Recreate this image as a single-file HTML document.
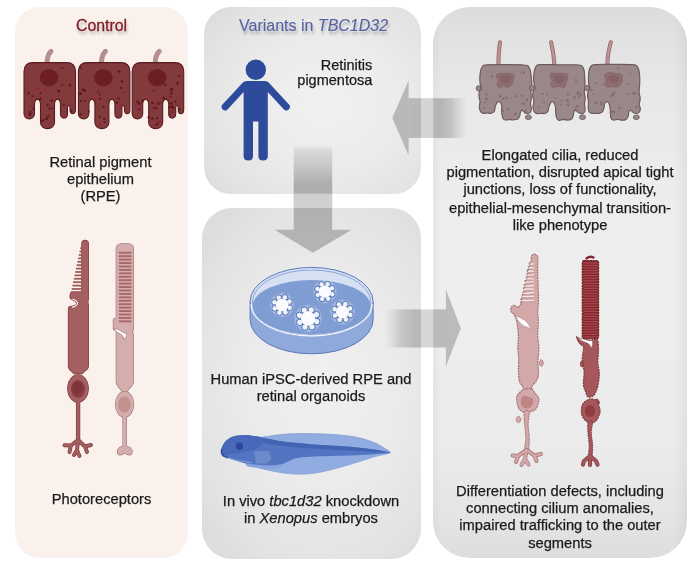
<!DOCTYPE html>
<html><head><meta charset="utf-8">
<style>
html,body{margin:0;padding:0;background:#fff;}
body{width:700px;height:567px;position:relative;overflow:hidden;font-family:"Liberation Sans",sans-serif;color:#1a1a1a;}
.p{position:absolute;}
.panel{position:absolute;border-radius:24px;}
.t{position:absolute;font-size:14.7px;line-height:17px;will-change:transform;-webkit-text-stroke:0.25px #1a1a1a;text-align:center;white-space:nowrap;}
.h{position:absolute;font-size:16px;line-height:18px;white-space:nowrap;will-change:transform;text-shadow:0 0 2px rgba(255,255,255,0.9),1px 3px 3px rgba(0,0,0,0.32);}
svg{position:absolute;left:0;top:0;}
</style></head><body>
<!-- panels -->
<div class="panel" style="left:14.5px;top:7px;width:173px;height:551.3px;background:#FAF1EC;border-radius:25px;"></div>
<div class="panel" style="left:203.5px;top:7.2px;width:217.5px;height:186.5px;background:radial-gradient(ellipse 72% 72% at 56% 52%,#F1F1F1 0%,#EBEBEB 50%,#E2E2E2 85%,#DCDCDC 100%);border-radius:27px;"></div>
<div class="panel" style="left:202px;top:208px;width:219px;height:350.5px;background:radial-gradient(ellipse 70% 62% at 55% 50%,#F0F0F0 0%,#EBEBEB 50%,#E3E3E3 85%,#DDDDDD 100%);border-radius:30px;"></div>
<div class="panel" style="left:433.3px;top:6.9px;width:253.7px;height:551.5px;background:linear-gradient(to right,rgba(0,0,0,0.035) 0%,rgba(0,0,0,0) 3%,rgba(0,0,0,0) 95%,rgba(0,0,0,0.05) 100%),linear-gradient(to bottom,#DCDCDC 0%,#E1E1E1 5%,#E8E8E8 15%,#EDEDED 35%,#EEEEEE 55%,#EBEBEB 80%,#E4E4E4 93%,#DDDDDD 100%);border-radius:37px;"></div>

<svg width="700" height="567" viewBox="0 0 700 567">
<g transform="translate(24,62.6)"><path d="M23,1 C23,-5 24.5,-9 27,-11.3" stroke="#B48E90" stroke-width="5" fill="none" stroke-linecap="round"/><path d="M0,9 C0,3 3,0 9,0 L42.5,0 C48.5,0 51.5,3 51.5,9 L51.5,47 C51.5,52.5 46,52.5 46,47 L46,45 C46,42 43.5,42 43.5,45 L43.5,51 C43.5,57 36.5,57 36.5,51 L36.5,42 C36.5,35 30.5,35 30.5,42 L30.5,60 C30.5,68 16.5,68 16.5,60 L16.5,42 C16.5,35 10.5,35 10.5,42 L10.5,51 C10.5,58 0,58 0,51 Z" fill="#833A3D" stroke="#5A1B1F" stroke-width="1.1"/><ellipse cx="25" cy="15.1" rx="9.3" ry="8.6" fill="#6C1E22"/><circle cx="6.4" cy="49.2" r="1.1" fill="#661A1E"/><circle cx="9.2" cy="46.1" r="1.1" fill="#661A1E"/><circle cx="23.0" cy="55.8" r="1.2" fill="#661A1E"/><circle cx="47.5" cy="48.1" r="1.0" fill="#5E171B"/><circle cx="6.0" cy="49.4" r="1.1" fill="#661A1E"/><circle cx="16.5" cy="36.1" r="1.3" fill="#661A1E"/><circle cx="19.4" cy="57.5" r="1.0" fill="#5E171B"/><circle cx="45.9" cy="22.3" r="1.5" fill="#661A1E"/><circle cx="40.0" cy="53.0" r="1.5" fill="#9A2A32"/><circle cx="8.2" cy="33.8" r="0.9" fill="#661A1E"/><circle cx="32.8" cy="26.9" r="1.1" fill="#9A2A32"/><circle cx="39.8" cy="27.6" r="1.3" fill="#9A2A32"/><circle cx="24.3" cy="53.7" r="1.3" fill="#661A1E"/><circle cx="22.6" cy="56.3" r="1.4" fill="#661A1E"/><circle cx="13.8" cy="25.7" r="1.0" fill="#661A1E"/><circle cx="4.7" cy="30.5" r="1.3" fill="#661A1E"/><circle cx="16.8" cy="30.4" r="0.9" fill="#5E171B"/><circle cx="38.3" cy="5.3" r="1.1" fill="#661A1E"/><circle cx="27.6" cy="38.2" r="1.4" fill="#5E171B"/><circle cx="21.5" cy="27.2" r="1.0" fill="#9A2A32"/><circle cx="18.0" cy="58.3" r="1.2" fill="#661A1E"/><circle cx="39.9" cy="42.1" r="1.0" fill="#5E171B"/><circle cx="34.9" cy="28.6" r="1.5" fill="#5E171B"/><circle cx="14.7" cy="26.3" r="1.4" fill="#9A2A32"/><circle cx="38.1" cy="22.4" r="1.1" fill="#661A1E"/><circle cx="5.2" cy="50.9" r="1.1" fill="#9A2A32"/><circle cx="42.1" cy="35.3" r="1.1" fill="#9A2A32"/><circle cx="10.3" cy="6.0" r="1.2" fill="#9A2A32"/><circle cx="28.4" cy="45.7" r="1.0" fill="#661A1E"/><circle cx="8.7" cy="33.7" r="1.0" fill="#661A1E"/><circle cx="5.7" cy="51.7" r="1.5" fill="#5E171B"/><circle cx="25.6" cy="45.9" r="1.3" fill="#661A1E"/><circle cx="23.5" cy="42.5" r="1.2" fill="#5E171B"/></g>
<g transform="translate(78.4,62.6)"><path d="M23,1 C23,-5 24.5,-9 27,-11.3" stroke="#B48E90" stroke-width="5" fill="none" stroke-linecap="round"/><path d="M0,9 C0,3 3,0 9,0 L42.5,0 C48.5,0 51.5,3 51.5,9 L51.5,47 C51.5,52.5 46,52.5 46,47 L46,45 C46,42 43.5,42 43.5,45 L43.5,51 C43.5,57 36.5,57 36.5,51 L36.5,42 C36.5,35 30.5,35 30.5,42 L30.5,60 C30.5,68 16.5,68 16.5,60 L16.5,42 C16.5,35 10.5,35 10.5,42 L10.5,51 C10.5,58 0,58 0,51 Z" fill="#833A3D" stroke="#5A1B1F" stroke-width="1.1"/><ellipse cx="25" cy="15.1" rx="9.3" ry="8.6" fill="#6C1E22"/><circle cx="40.7" cy="8.9" r="1.3" fill="#5E171B"/><circle cx="20.0" cy="36.3" r="1.3" fill="#9A2A32"/><circle cx="22.2" cy="62.6" r="1.3" fill="#9A2A32"/><circle cx="21.3" cy="54.3" r="1.1" fill="#661A1E"/><circle cx="10.3" cy="49.0" r="1.0" fill="#661A1E"/><circle cx="42.8" cy="25.3" r="1.1" fill="#5E171B"/><circle cx="43.5" cy="18.7" r="1.3" fill="#661A1E"/><circle cx="10.0" cy="33.5" r="0.9" fill="#9A2A32"/><circle cx="2.1" cy="31.0" r="1.5" fill="#5E171B"/><circle cx="19.3" cy="29.4" r="0.9" fill="#661A1E"/><circle cx="6.1" cy="27.9" r="1.4" fill="#661A1E"/><circle cx="2.3" cy="51.6" r="1.2" fill="#5E171B"/><circle cx="16.9" cy="35.9" r="1.1" fill="#9A2A32"/><circle cx="25.9" cy="56.3" r="1.2" fill="#661A1E"/><circle cx="4.7" cy="27.2" r="1.4" fill="#661A1E"/><circle cx="26.2" cy="59.5" r="1.0" fill="#5E171B"/><circle cx="6.2" cy="38.3" r="1.0" fill="#661A1E"/><circle cx="2.3" cy="5.2" r="1.1" fill="#5E171B"/><circle cx="40.3" cy="36.0" r="1.4" fill="#661A1E"/><circle cx="21.4" cy="31.9" r="1.1" fill="#5E171B"/><circle cx="21.4" cy="36.3" r="1.2" fill="#5E171B"/><circle cx="42.6" cy="42.6" r="1.4" fill="#9A2A32"/><circle cx="25.3" cy="44.3" r="1.2" fill="#661A1E"/><circle cx="38.5" cy="40.2" r="1.2" fill="#661A1E"/><circle cx="2.4" cy="38.6" r="1.1" fill="#5E171B"/><circle cx="44.6" cy="29.2" r="1.4" fill="#9A2A32"/></g>
<g transform="translate(132.2,62.6)"><path d="M23,1 C23,-5 24.5,-9 27,-11.3" stroke="#B48E90" stroke-width="5" fill="none" stroke-linecap="round"/><path d="M0,9 C0,3 3,0 9,0 L42.5,0 C48.5,0 51.5,3 51.5,9 L51.5,47 C51.5,52.5 46,52.5 46,47 L46,45 C46,42 43.5,42 43.5,45 L43.5,51 C43.5,57 36.5,57 36.5,51 L36.5,42 C36.5,35 30.5,35 30.5,42 L30.5,60 C30.5,68 16.5,68 16.5,60 L16.5,42 C16.5,35 10.5,35 10.5,42 L10.5,51 C10.5,58 0,58 0,51 Z" fill="#833A3D" stroke="#5A1B1F" stroke-width="1.1"/><ellipse cx="25" cy="15.1" rx="9.3" ry="8.6" fill="#6C1E22"/><circle cx="21.6" cy="27.9" r="1.1" fill="#661A1E"/><circle cx="16.6" cy="54.8" r="1.3" fill="#661A1E"/><circle cx="10.1" cy="38.2" r="1.2" fill="#661A1E"/><circle cx="21.1" cy="45.1" r="0.9" fill="#661A1E"/><circle cx="31.5" cy="35.4" r="1.4" fill="#661A1E"/><circle cx="39.1" cy="40.9" r="1.4" fill="#661A1E"/><circle cx="39.8" cy="26.3" r="1.2" fill="#5E171B"/><circle cx="28.0" cy="39.9" r="1.0" fill="#661A1E"/><circle cx="40.1" cy="44.1" r="1.5" fill="#5E171B"/><circle cx="24.9" cy="55.5" r="1.1" fill="#5E171B"/><circle cx="38.9" cy="30.9" r="1.4" fill="#661A1E"/><circle cx="43.4" cy="39.0" r="1.1" fill="#5E171B"/><circle cx="38.8" cy="27.4" r="1.4" fill="#661A1E"/><circle cx="39.5" cy="49.4" r="1.4" fill="#661A1E"/><circle cx="7.1" cy="40.9" r="1.5" fill="#661A1E"/><circle cx="38.7" cy="49.2" r="1.5" fill="#9A2A32"/><circle cx="37.5" cy="51.7" r="0.9" fill="#5E171B"/><circle cx="20.3" cy="40.3" r="1.4" fill="#661A1E"/><circle cx="14.5" cy="36.2" r="1.2" fill="#9A2A32"/><circle cx="37.1" cy="44.7" r="1.2" fill="#661A1E"/><circle cx="20.3" cy="55.8" r="1.4" fill="#661A1E"/><circle cx="5.4" cy="39.2" r="1.4" fill="#5E171B"/><circle cx="25.4" cy="61.9" r="1.2" fill="#9A2A32"/><circle cx="38.3" cy="34.0" r="1.1" fill="#661A1E"/><circle cx="36.9" cy="31.1" r="1.4" fill="#9A2A32"/><circle cx="47.1" cy="13.3" r="1.2" fill="#661A1E"/><circle cx="45.4" cy="20.7" r="1.5" fill="#661A1E"/><circle cx="41.2" cy="45.9" r="1.1" fill="#661A1E"/><circle cx="45.8" cy="35.8" r="1.2" fill="#9A2A32"/><circle cx="24.4" cy="62.0" r="1.4" fill="#5E171B"/><circle cx="26.0" cy="41.1" r="1.4" fill="#661A1E"/><circle cx="33.1" cy="22.4" r="1.4" fill="#661A1E"/><circle cx="26.7" cy="59.4" r="0.9" fill="#661A1E"/><circle cx="7.0" cy="46.9" r="1.0" fill="#5E171B"/><circle cx="24.8" cy="46.2" r="1.5" fill="#9A2A32"/><circle cx="23.7" cy="45.4" r="1.5" fill="#661A1E"/><circle cx="47.7" cy="46.8" r="1.0" fill="#661A1E"/></g>
<g transform="translate(480,64.3)"><path d="M18.5,0.5 C18.1,-8 19.2,-15 20,-22" stroke="#8A666A" stroke-width="4.0" fill="none" stroke-linecap="round"/><path d="M18.5,0.5 C18.1,-8 19.2,-15 20,-22" stroke="#C09195" stroke-width="2.5" fill="none" stroke-linecap="round"/><path d="M0.5,7.0 C0.9,5.1 1.3,3.6 2.3,2.5 C3.2,1.4 2.2,0.9 6.0,0.6 C9.8,0.2 18.5,0.3 24.8,0.3 C31.2,0.3 40.2,0.4 44.1,0.7 C48.0,0.9 47.2,1.0 48.3,1.9 C49.3,2.8 49.8,4.5 50.3,6.2 C50.7,7.8 50.9,9.4 51.1,11.7 C51.4,14.1 51.8,17.6 51.8,20.3 C51.8,23.0 51.0,25.8 50.9,28.1 C50.8,30.3 51.4,31.8 51.3,33.7 C51.2,35.7 50.5,38.0 50.5,39.7 C50.5,41.4 51.3,42.6 51.3,43.8 C51.3,45.1 51.2,46.6 50.7,47.5 C50.2,48.4 49.4,49.0 48.5,49.2 C47.5,49.4 45.9,49.0 45.0,48.6 C44.1,48.1 43.6,47.1 43.0,46.6 C42.4,46.1 41.9,45.6 41.5,45.9 C41.0,46.2 40.6,47.3 40.3,48.3 C40.0,49.3 40.2,50.5 39.7,51.6 C39.2,52.7 38.5,54.2 37.4,54.8 C36.3,55.5 34.2,55.5 32.9,55.5 C31.5,55.6 30.4,55.2 29.2,55.2 C27.9,55.3 26.3,56.0 25.2,55.7 C24.1,55.5 23.4,55.0 22.8,53.7 C22.2,52.4 21.9,49.8 21.7,47.8 C21.5,45.9 21.9,43.6 21.7,42.0 C21.5,40.4 21.2,38.9 20.5,38.1 C19.8,37.4 18.4,37.4 17.7,37.6 C17.1,37.8 16.8,38.5 16.4,39.4 C15.9,40.2 15.4,41.6 15.1,42.9 C14.7,44.2 15.0,46.1 14.3,47.2 C13.6,48.2 12.0,48.8 10.8,49.0 C9.5,49.3 7.9,48.5 6.8,48.5 C5.6,48.5 4.7,49.3 3.7,49.1 C2.7,48.9 1.6,48.5 0.8,47.5 C0.1,46.5 -0.5,44.9 -0.7,43.1 C-0.8,41.4 0.0,39.0 -0.0,37.1 C-0.1,35.2 -1.0,33.7 -1.0,32.0 C-1.1,30.2 -0.9,28.2 -0.5,26.9 C-0.0,25.6 1.5,25.3 1.6,24.2 C1.7,23.1 0.6,21.9 0.3,20.2 C-0.0,18.5 -0.2,16.1 -0.2,13.9 C-0.1,11.7 0.1,8.9 0.5,7.0 Z" fill="#9A8789" stroke="#6C5B5D" stroke-width="1.2" stroke-linejoin="round"/><path d="M17.4,9.6 C18.2,9.1 19.9,9.1 21.6,9.0 C23.3,8.9 25.8,8.8 27.7,9.0 C29.7,9.1 32.2,9.1 33.3,9.8 C34.3,10.6 34.1,12.1 34.0,13.6 C33.9,15.0 33.3,17.1 32.6,18.6 C31.9,20.1 30.9,21.9 29.7,22.6 C28.6,23.3 26.9,23.1 25.9,23.0 C24.8,22.8 24.5,21.7 23.5,21.8 C22.4,21.9 20.7,23.8 19.6,23.6 C18.4,23.3 16.9,21.4 16.7,20.2 C16.5,18.9 18.5,17.6 18.4,16.3 C18.3,15.0 16.4,13.3 16.2,12.2 C16.1,11.1 16.5,10.2 17.4,9.6 Z" fill="#8E6C6F" stroke="#806064" stroke-width="0.6"/><path d="M20,12 C23,10 27,11 30,12.5 C31.5,15 30,18 27.5,19 C25,19.5 22,18.5 20.5,16.5 Z" fill="#835D62" opacity="0.7"/><circle cx="36.3" cy="49.1" r="0.9" fill="#836D6F"/><circle cx="45.8" cy="46.3" r="1.2" fill="#836D6F"/><circle cx="28.2" cy="44.9" r="1.2" fill="#836D6F"/><circle cx="19.6" cy="31.5" r="0.9" fill="#836D6F"/><circle cx="47.1" cy="35.5" r="1.2" fill="#836D6F"/><circle cx="34.5" cy="50.2" r="0.8" fill="#836D6F"/><circle cx="6.4" cy="30.2" r="1.2" fill="#836D6F"/><circle cx="43.5" cy="39.4" r="1.2" fill="#836D6F"/><circle cx="41.9" cy="31.5" r="1.2" fill="#836D6F"/><circle cx="20.2" cy="32.0" r="1.2" fill="#836D6F"/><circle cx="6.6" cy="34.7" r="1.4" fill="#836D6F"/><circle cx="42.6" cy="39.0" r="1.0" fill="#836D6F"/><circle cx="36.1" cy="31.9" r="1.1" fill="#836D6F"/><circle cx="40.7" cy="8.0" r="0.8" fill="#836D6F"/><circle cx="12.1" cy="12.1" r="1.2" fill="#836D6F"/><circle cx="22.9" cy="46.8" r="1.0" fill="#836D6F"/><circle cx="35.0" cy="49.6" r="1.0" fill="#836D6F"/><circle cx="4.9" cy="38.0" r="1.1" fill="#836D6F"/><circle cx="4.1" cy="43.8" r="0.9" fill="#836D6F"/><circle cx="23.1" cy="34.2" r="1.2" fill="#836D6F"/><circle cx="26.4" cy="33.5" r="1.3" fill="#836D6F"/><circle cx="43.8" cy="8.2" r="1.2" fill="#836D6F"/></g>
<g transform="translate(533.8,64.3)"><path d="M20.6,0.5 C20.200000000000003,-8 19.0,-15 17.3,-22" stroke="#8A666A" stroke-width="4.0" fill="none" stroke-linecap="round"/><path d="M20.6,0.5 C20.200000000000003,-8 19.0,-15 17.3,-22" stroke="#C09195" stroke-width="2.5" fill="none" stroke-linecap="round"/><path d="M0.5,7.1 C0.9,5.1 1.2,3.4 2.1,2.3 C3.0,1.2 1.9,0.7 5.7,0.4 C9.5,0.1 18.5,0.5 24.9,0.5 C31.3,0.5 40.2,0.3 44.1,0.6 C48.1,0.8 47.5,1.2 48.5,2.1 C49.6,3.0 49.9,4.3 50.3,6.0 C50.7,7.7 50.6,9.9 50.8,12.2 C51.0,14.6 51.3,17.5 51.2,20.2 C51.2,22.8 50.5,25.8 50.5,28.1 C50.6,30.4 51.4,32.0 51.4,33.9 C51.4,35.9 50.7,38.0 50.7,39.7 C50.7,41.4 51.2,43.0 51.2,44.2 C51.3,45.5 51.4,46.4 51.0,47.3 C50.6,48.1 49.8,49.1 48.8,49.3 C47.8,49.5 45.8,48.9 44.8,48.5 C43.8,48.0 43.3,46.8 42.8,46.4 C42.2,45.9 42.0,45.6 41.6,45.8 C41.1,46.0 40.5,46.7 40.1,47.7 C39.7,48.7 39.7,50.5 39.3,51.7 C38.9,52.9 38.5,54.3 37.4,55.0 C36.4,55.6 34.5,55.8 33.1,55.8 C31.6,55.8 30.3,55.0 28.9,55.0 C27.6,55.1 26.2,56.3 25.1,56.1 C24.1,55.8 23.3,55.0 22.8,53.6 C22.2,52.2 22.1,49.8 21.9,47.9 C21.7,46.0 21.9,43.8 21.6,42.1 C21.3,40.5 20.6,38.8 20.0,38.0 C19.4,37.3 18.5,37.3 17.9,37.5 C17.3,37.7 16.9,38.6 16.4,39.5 C15.9,40.4 15.4,41.9 15.0,43.2 C14.6,44.4 14.7,46.0 14.0,47.0 C13.3,48.0 12.0,48.8 10.8,49.2 C9.7,49.5 8.2,48.9 6.9,49.0 C5.7,49.0 4.3,49.6 3.3,49.3 C2.2,49.1 1.3,48.7 0.6,47.6 C-0.1,46.5 -0.7,44.6 -0.8,42.9 C-0.9,41.1 0.2,38.9 0.1,37.1 C0.1,35.3 -1.0,33.7 -1.1,32.0 C-1.2,30.3 -0.9,28.2 -0.5,26.9 C-0.1,25.6 1.1,25.4 1.3,24.3 C1.4,23.2 0.6,21.9 0.4,20.3 C0.1,18.6 -0.2,16.5 -0.2,14.3 C-0.2,12.1 0.1,9.1 0.5,7.1 Z" fill="#9A8789" stroke="#6C5B5D" stroke-width="1.2" stroke-linejoin="round"/><path d="M16.9,9.2 C17.9,8.5 20.5,8.9 22.2,8.9 C24.0,8.9 25.7,8.8 27.5,9.0 C29.3,9.1 32.2,9.1 33.3,9.8 C34.3,10.6 34.1,12.0 33.9,13.5 C33.8,15.0 33.1,17.0 32.5,18.6 C32.0,20.2 31.6,22.3 30.5,23.0 C29.4,23.6 27.3,22.7 26.0,22.5 C24.7,22.4 23.9,22.0 22.8,22.1 C21.8,22.2 20.8,23.6 19.8,23.3 C18.8,23.1 17.0,21.7 16.7,20.5 C16.4,19.3 18.1,17.4 18.0,16.1 C17.9,14.9 16.4,14.1 16.3,12.9 C16.1,11.8 15.9,9.9 16.9,9.2 Z" fill="#8E6C6F" stroke="#806064" stroke-width="0.6"/><path d="M20,12 C23,10 27,11 30,12.5 C31.5,15 30,18 27.5,19 C25,19.5 22,18.5 20.5,16.5 Z" fill="#835D62" opacity="0.7"/><circle cx="42.3" cy="17.4" r="1.1" fill="#836D6F"/><circle cx="34.3" cy="37.8" r="0.9" fill="#836D6F"/><circle cx="47.1" cy="30.9" r="1.2" fill="#836D6F"/><circle cx="43.5" cy="41.9" r="1.1" fill="#836D6F"/><circle cx="43.7" cy="42.3" r="1.3" fill="#836D6F"/><circle cx="44.0" cy="29.7" r="1.3" fill="#836D6F"/><circle cx="34.0" cy="30.0" r="1.2" fill="#836D6F"/><circle cx="8.6" cy="29.6" r="1.2" fill="#836D6F"/><circle cx="34.3" cy="40.5" r="1.2" fill="#836D6F"/><circle cx="44.3" cy="28.0" r="1.2" fill="#836D6F"/><circle cx="41.5" cy="43.9" r="0.9" fill="#836D6F"/><circle cx="27.2" cy="40.5" r="1.0" fill="#836D6F"/><circle cx="33.3" cy="35.8" r="1.4" fill="#836D6F"/><circle cx="27.9" cy="36.7" r="1.0" fill="#836D6F"/><circle cx="13.2" cy="30.1" r="1.0" fill="#836D6F"/><circle cx="5.1" cy="42.6" r="1.0" fill="#836D6F"/><circle cx="45.1" cy="32.7" r="1.0" fill="#836D6F"/><circle cx="40.9" cy="33.2" r="1.3" fill="#836D6F"/><circle cx="21.6" cy="33.7" r="1.0" fill="#836D6F"/><circle cx="46.7" cy="29.1" r="0.8" fill="#836D6F"/><circle cx="40.5" cy="14.1" r="0.8" fill="#836D6F"/><circle cx="10.3" cy="38.4" r="1.0" fill="#836D6F"/></g>
<g transform="translate(588.5,64.3)"><path d="M19,0.5 C18.6,-8 20.6,-15 22.3,-22" stroke="#8A666A" stroke-width="4.0" fill="none" stroke-linecap="round"/><path d="M19,0.5 C18.6,-8 20.6,-15 22.3,-22" stroke="#C09195" stroke-width="2.5" fill="none" stroke-linecap="round"/><path d="M0.4,7.1 C0.7,5.2 1.2,3.8 2.1,2.7 C3.0,1.6 2.0,0.8 5.8,0.3 C9.6,-0.1 18.4,0.1 24.8,0.1 C31.2,0.1 40.2,-0.0 44.1,0.3 C48.1,0.6 47.5,0.9 48.5,1.8 C49.6,2.8 49.9,4.3 50.4,6.0 C50.8,7.7 51.1,9.7 51.2,12.1 C51.3,14.4 51.3,17.2 51.2,19.9 C51.1,22.6 50.5,25.8 50.6,28.2 C50.7,30.6 51.7,32.2 51.7,34.2 C51.7,36.2 50.7,38.5 50.7,40.1 C50.7,41.8 51.7,42.9 51.8,44.2 C51.8,45.4 51.4,46.9 50.9,47.7 C50.3,48.5 49.5,49.0 48.5,49.2 C47.5,49.3 46.0,48.9 45.0,48.5 C44.1,48.0 43.5,46.9 42.9,46.5 C42.3,46.0 41.8,45.5 41.4,45.8 C40.9,46.1 40.5,47.2 40.2,48.2 C39.9,49.2 40.2,50.5 39.8,51.6 C39.3,52.8 38.7,54.4 37.5,55.1 C36.4,55.9 34.2,55.9 32.8,55.9 C31.4,55.9 30.3,55.1 29.0,55.1 C27.6,55.1 25.9,56.1 24.8,55.8 C23.7,55.5 22.8,54.8 22.4,53.5 C21.9,52.2 22.2,49.9 22.1,47.9 C21.9,46.0 21.6,43.6 21.3,42.0 C20.9,40.3 20.6,38.8 20.0,38.0 C19.5,37.3 18.5,37.2 17.8,37.4 C17.1,37.7 16.3,38.7 15.9,39.6 C15.6,40.5 15.9,41.7 15.6,42.9 C15.3,44.2 14.9,46.3 14.1,47.3 C13.3,48.3 11.9,48.7 10.7,49.0 C9.6,49.3 8.4,49.0 7.2,49.0 C6.0,49.0 4.7,49.3 3.6,49.1 C2.5,48.9 1.4,48.7 0.7,47.7 C0.1,46.7 -0.1,44.9 -0.3,43.2 C-0.4,41.4 0.1,39.1 0.0,37.2 C-0.1,35.4 -0.8,33.8 -0.9,32.1 C-1.0,30.5 -0.9,28.6 -0.5,27.3 C-0.1,26.0 1.2,25.3 1.4,24.1 C1.5,22.9 0.4,21.8 0.2,20.1 C0.0,18.4 0.0,16.2 0.0,14.1 C0.1,11.9 0.0,9.0 0.4,7.1 Z" fill="#9A8789" stroke="#6C5B5D" stroke-width="1.2" stroke-linejoin="round"/><path d="M16.9,9.7 C17.8,9.0 20.0,8.4 21.8,8.3 C23.6,8.2 25.9,9.1 27.7,9.4 C29.5,9.6 31.6,8.9 32.6,9.7 C33.6,10.5 33.7,12.7 33.8,14.1 C33.8,15.6 33.8,17.2 33.1,18.5 C32.4,19.9 30.7,21.8 29.5,22.4 C28.3,23.1 27.0,22.6 25.8,22.6 C24.7,22.6 23.6,22.2 22.5,22.3 C21.4,22.4 20.1,23.3 19.1,23.0 C18.2,22.7 17.0,21.8 16.8,20.6 C16.5,19.4 17.6,17.3 17.6,16.0 C17.5,14.7 16.5,13.9 16.4,12.8 C16.2,11.8 15.9,10.5 16.9,9.7 Z" fill="#8E6C6F" stroke="#806064" stroke-width="0.6"/><path d="M20,12 C23,10 27,11 30,12.5 C31.5,15 30,18 27.5,19 C25,19.5 22,18.5 20.5,16.5 Z" fill="#835D62" opacity="0.7"/><circle cx="46.6" cy="28.8" r="1.1" fill="#836D6F"/><circle cx="25.6" cy="47.7" r="1.2" fill="#836D6F"/><circle cx="30.0" cy="4.2" r="0.9" fill="#836D6F"/><circle cx="24.6" cy="30.6" r="1.0" fill="#836D6F"/><circle cx="41.9" cy="9.4" r="0.9" fill="#836D6F"/><circle cx="5.0" cy="29.7" r="0.9" fill="#836D6F"/><circle cx="39.2" cy="19.5" r="1.1" fill="#836D6F"/><circle cx="12.6" cy="38.5" r="1.2" fill="#836D6F"/><circle cx="45.1" cy="29.0" r="1.4" fill="#836D6F"/><circle cx="22.8" cy="31.5" r="1.2" fill="#836D6F"/><circle cx="39.6" cy="29.6" r="1.0" fill="#836D6F"/><circle cx="7.8" cy="38.4" r="1.3" fill="#836D6F"/><circle cx="48.0" cy="42.8" r="1.1" fill="#836D6F"/><circle cx="31.0" cy="44.0" r="1.2" fill="#836D6F"/><circle cx="7.9" cy="18.8" r="1.1" fill="#836D6F"/><circle cx="14.7" cy="19.9" r="0.9" fill="#836D6F"/><circle cx="23.7" cy="47.3" r="1.1" fill="#836D6F"/><circle cx="11.6" cy="31.5" r="0.8" fill="#836D6F"/><circle cx="25.4" cy="29.0" r="1.3" fill="#836D6F"/><circle cx="12.6" cy="39.8" r="1.2" fill="#836D6F"/><circle cx="3.4" cy="25.6" r="1.0" fill="#836D6F"/><circle cx="22.2" cy="47.9" r="1.2" fill="#836D6F"/></g>
<ellipse cx="478.5" cy="88.3" rx="2.3" ry="2.6" fill="#9A8789" stroke="#6C5B5D" stroke-width="0.9"/>
<ellipse cx="531.8" cy="88" rx="2.3" ry="2.6" fill="#9A8789" stroke="#6C5B5D" stroke-width="0.9"/>
<ellipse cx="587" cy="88" rx="2.3" ry="2.6" fill="#9A8789" stroke="#6C5B5D" stroke-width="0.9"/>
<ellipse cx="528.4" cy="117.2" rx="3" ry="2.3" fill="#9A8789" stroke="#6C5B5D" stroke-width="0.9"/>
<ellipse cx="582.5" cy="117.2" rx="3" ry="2.3" fill="#9A8789" stroke="#6C5B5D" stroke-width="0.9"/>
<ellipse cx="636.3" cy="117.2" rx="3" ry="2.3" fill="#9A8789" stroke="#6C5B5D" stroke-width="0.9"/>
<defs>
<linearGradient id="gDown" x1="0" y1="145" x2="0" y2="232" gradientUnits="userSpaceOnUse">
<stop offset="0" stop-color="#B0B0B0" stop-opacity="0"/><stop offset="0.12" stop-color="#C8C8C8" stop-opacity="0.7"/><stop offset="0.45" stop-color="#ADADAD" stop-opacity="1"/><stop offset="1" stop-color="#B3B3B3"/></linearGradient>
<linearGradient id="gLeft" x1="408" y1="0" x2="467" y2="0" gradientUnits="userSpaceOnUse">
<stop offset="0" stop-color="#B9B9B9"/><stop offset="0.55" stop-color="#B5B5B5"/><stop offset="0.75" stop-color="#C4C4C4"/><stop offset="1" stop-color="#DCDCDC" stop-opacity="0.2"/></linearGradient>
<linearGradient id="gRight" x1="385" y1="0" x2="446" y2="0" gradientUnits="userSpaceOnUse">
<stop offset="0" stop-color="#D8D8D8" stop-opacity="0.1"/><stop offset="0.25" stop-color="#C8C8C8"/><stop offset="0.5" stop-color="#B8B8B8"/><stop offset="1" stop-color="#BBBBBB"/></linearGradient>
</defs>
<rect x="293.7" y="145" width="38.5" height="85.5" fill="url(#gDown)"/>
<path d="M274.6,229.8 L351.7,229.8 L312.9,252.7 Z" fill="#B3B3B3"/>
<rect x="408.2" y="98.2" width="58.5" height="39.7" fill="url(#gLeft)"/>
<path d="M408.6,80.6 L408.6,155.5 L392.3,118 Z" fill="#B8B8B8"/>
<rect x="385.5" y="309.4" width="60.8" height="38.1" fill="url(#gRight)"/>
<path d="M445.9,289.5 L445.9,366.5 L460.8,328.2 Z" fill="#BBBBBB"/>
<rect x="293.7" y="193.7" width="38.5" height="14.3" fill="#FFFFFF" opacity="0.42"/>
<rect x="421" y="80" width="12.3" height="76" fill="#FFFFFF" opacity="0.42"/>
<rect x="421" y="289" width="12.3" height="78" fill="#FFFFFF" opacity="0.42"/>

<path d="M250.10000000000002,301.7 L250.10000000000002,319.5 A61.5,34.3 0 0 0 373.1,319.5 L373.1,301.7 Z" fill="#8EA9DA" stroke="#5B78B9" stroke-width="1"/><ellipse cx="311.6" cy="301.7" rx="61.5" ry="34.3" fill="#D6E0F3" stroke="#5B78B9" stroke-width="1"/><ellipse cx="311.6" cy="302.2" rx="59.2" ry="32.2" fill="none" stroke="#6F8CC8" stroke-width="0.7"/><path d="M252.60000000000002,306 A59,26 0 0 1 370.6,306 A59,28.2 0 0 1 252.60000000000002,306 Z" fill="#7F9DD3"/><path d="M251.10000000000002,304 A60.5,32 0 0 0 372.1,304" fill="none" stroke="#F2F6FD" stroke-width="1.3"/><circle cx="282.1" cy="305" r="11.98" fill="#BFCEEE" opacity="0.55"/><circle cx="282.1" cy="305" r="9.04" fill="#E4EAF8"/><circle cx="289.74" cy="307.79" r="2.83" fill="#EEF2FB" stroke="#4E6CB0" stroke-width="1.0"/><circle cx="285.53" cy="312.38" r="2.83" fill="#EEF2FB" stroke="#4E6CB0" stroke-width="1.0"/><circle cx="279.31" cy="312.64" r="2.83" fill="#EEF2FB" stroke="#4E6CB0" stroke-width="1.0"/><circle cx="274.72" cy="308.43" r="2.83" fill="#EEF2FB" stroke="#4E6CB0" stroke-width="1.0"/><circle cx="274.46" cy="302.21" r="2.83" fill="#EEF2FB" stroke="#4E6CB0" stroke-width="1.0"/><circle cx="278.67" cy="297.62" r="2.83" fill="#EEF2FB" stroke="#4E6CB0" stroke-width="1.0"/><circle cx="284.89" cy="297.36" r="2.83" fill="#EEF2FB" stroke="#4E6CB0" stroke-width="1.0"/><circle cx="289.48" cy="301.57" r="2.83" fill="#EEF2FB" stroke="#4E6CB0" stroke-width="1.0"/><circle cx="282.1" cy="305" r="6.33" fill="#FBFCFF"/><circle cx="308.1" cy="318.5" r="13.57" fill="#BFCEEE" opacity="0.55"/><circle cx="308.1" cy="318.5" r="10.24" fill="#E4EAF8"/><circle cx="316.76" cy="321.66" r="3.20" fill="#EEF2FB" stroke="#4E6CB0" stroke-width="1.0"/><circle cx="311.99" cy="326.86" r="3.20" fill="#EEF2FB" stroke="#4E6CB0" stroke-width="1.0"/><circle cx="304.94" cy="327.16" r="3.20" fill="#EEF2FB" stroke="#4E6CB0" stroke-width="1.0"/><circle cx="299.74" cy="322.39" r="3.20" fill="#EEF2FB" stroke="#4E6CB0" stroke-width="1.0"/><circle cx="299.44" cy="315.34" r="3.20" fill="#EEF2FB" stroke="#4E6CB0" stroke-width="1.0"/><circle cx="304.21" cy="310.14" r="3.20" fill="#EEF2FB" stroke="#4E6CB0" stroke-width="1.0"/><circle cx="311.26" cy="309.84" r="3.20" fill="#EEF2FB" stroke="#4E6CB0" stroke-width="1.0"/><circle cx="316.46" cy="314.61" r="3.20" fill="#EEF2FB" stroke="#4E6CB0" stroke-width="1.0"/><circle cx="308.1" cy="318.5" r="7.17" fill="#FBFCFF"/><circle cx="324.9" cy="291.6" r="11.66" fill="#BFCEEE" opacity="0.55"/><circle cx="324.9" cy="291.6" r="8.80" fill="#E4EAF8"/><circle cx="332.34" cy="294.32" r="2.75" fill="#EEF2FB" stroke="#4E6CB0" stroke-width="1.0"/><circle cx="328.24" cy="298.78" r="2.75" fill="#EEF2FB" stroke="#4E6CB0" stroke-width="1.0"/><circle cx="322.18" cy="299.04" r="2.75" fill="#EEF2FB" stroke="#4E6CB0" stroke-width="1.0"/><circle cx="317.72" cy="294.94" r="2.75" fill="#EEF2FB" stroke="#4E6CB0" stroke-width="1.0"/><circle cx="317.46" cy="288.88" r="2.75" fill="#EEF2FB" stroke="#4E6CB0" stroke-width="1.0"/><circle cx="321.56" cy="284.42" r="2.75" fill="#EEF2FB" stroke="#4E6CB0" stroke-width="1.0"/><circle cx="327.62" cy="284.16" r="2.75" fill="#EEF2FB" stroke="#4E6CB0" stroke-width="1.0"/><circle cx="332.08" cy="288.26" r="2.75" fill="#EEF2FB" stroke="#4E6CB0" stroke-width="1.0"/><circle cx="324.9" cy="291.6" r="6.16" fill="#FBFCFF"/><circle cx="342.5" cy="312" r="12.30" fill="#BFCEEE" opacity="0.55"/><circle cx="342.5" cy="312" r="9.28" fill="#E4EAF8"/><circle cx="350.35" cy="314.86" r="2.90" fill="#EEF2FB" stroke="#4E6CB0" stroke-width="1.0"/><circle cx="346.02" cy="319.57" r="2.90" fill="#EEF2FB" stroke="#4E6CB0" stroke-width="1.0"/><circle cx="339.64" cy="319.85" r="2.90" fill="#EEF2FB" stroke="#4E6CB0" stroke-width="1.0"/><circle cx="334.93" cy="315.52" r="2.90" fill="#EEF2FB" stroke="#4E6CB0" stroke-width="1.0"/><circle cx="334.65" cy="309.14" r="2.90" fill="#EEF2FB" stroke="#4E6CB0" stroke-width="1.0"/><circle cx="338.98" cy="304.43" r="2.90" fill="#EEF2FB" stroke="#4E6CB0" stroke-width="1.0"/><circle cx="345.36" cy="304.15" r="2.90" fill="#EEF2FB" stroke="#4E6CB0" stroke-width="1.0"/><circle cx="350.07" cy="308.48" r="2.90" fill="#EEF2FB" stroke="#4E6CB0" stroke-width="1.0"/><circle cx="342.5" cy="312" r="6.50" fill="#FBFCFF"/>
<path d="M258.0,440.0 C262.0,435.4 265.5,437.0 270.0,436.0 C274.5,435.0 280.0,434.6 285.0,434.2 C290.0,433.8 294.2,433.7 300.0,433.6 C305.8,433.5 313.3,433.6 320.0,433.8 C326.7,434.0 333.7,434.4 340.0,435.0 C346.3,435.6 352.3,436.2 358.0,437.5 C363.7,438.8 369.5,440.7 374.0,442.5 C378.5,444.3 382.2,446.8 385.0,448.5 C387.8,450.2 390.7,451.6 390.5,452.6 C390.3,453.6 387.1,453.7 384.0,454.5 C380.9,455.3 376.3,456.2 372.0,457.5 C367.7,458.8 362.8,460.5 358.0,462.0 C353.2,463.5 348.0,465.1 343.0,466.5 C338.0,467.9 333.2,469.3 328.0,470.5 C322.8,471.7 317.0,473.0 312.0,473.6 C307.0,474.2 302.5,474.2 298.0,474.2 C293.5,474.1 289.3,473.8 285.0,473.3 C280.7,472.8 276.5,472.0 272.0,471.0 C267.5,470.0 262.3,468.8 258.0,467.5 C253.7,466.2 246.0,468.1 246.0,463.5 C246.0,458.9 254.0,444.6 258.0,440.0 Z" fill="#90ACE1" stroke="#7896D2" stroke-width="0.6"/><path d="M221.0,452.8 C220.6,451.1 221.5,448.1 222.5,446.0 C223.5,443.9 225.1,441.6 227.0,440.0 C228.9,438.4 231.2,437.0 234.0,436.2 C236.8,435.4 240.5,435.2 244.0,435.2 C247.5,435.2 251.5,435.8 255.0,436.3 C258.5,436.8 260.0,437.4 265.0,438.3 C270.0,439.2 277.5,440.8 285.0,441.8 C292.5,442.8 301.7,443.5 310.0,444.2 C318.3,444.9 327.5,445.3 335.0,445.8 C342.5,446.3 348.8,446.7 355.0,447.3 C361.2,447.9 367.2,448.6 372.0,449.3 C376.8,450.0 381.0,450.8 384.0,451.3 C387.0,451.9 390.2,452.2 390.0,452.6 C389.8,453.0 386.3,453.3 383.0,453.6 C379.7,453.9 375.5,454.3 370.0,454.6 C364.5,454.9 356.7,455.2 350.0,455.4 C343.3,455.6 336.7,455.8 330.0,456.0 C323.3,456.2 315.7,456.4 310.0,456.8 C304.3,457.2 299.8,457.4 296.0,458.3 C292.2,459.2 290.0,460.8 287.0,462.0 C284.0,463.2 281.5,464.7 278.0,465.5 C274.5,466.3 270.2,466.7 266.0,466.6 C261.8,466.6 257.0,465.9 253.0,465.2 C249.0,464.5 245.5,463.4 242.0,462.5 C238.5,461.6 234.8,460.5 232.0,459.5 C229.2,458.5 226.8,457.6 225.0,456.5 C223.2,455.4 221.4,454.6 221.0,452.8 Z" fill="#5274C1"/><path d="M244.0,435.2 C244.8,434.8 251.5,435.8 255.0,436.3 C258.5,436.8 260.0,437.4 265.0,438.3 C270.0,439.2 277.5,440.8 285.0,441.8 C292.5,442.8 301.7,443.5 310.0,444.2 C318.3,444.9 327.5,445.3 335.0,445.8 C342.5,446.3 348.8,446.7 355.0,447.3 C361.2,447.9 367.2,448.6 372.0,449.3 C376.8,450.0 381.0,450.8 384.0,451.3 C387.0,451.9 390.7,452.5 390.0,452.6 C389.3,452.7 384.2,452.2 380.0,452.0 C375.8,451.8 370.8,451.5 365.0,451.2 C359.2,450.9 352.5,450.6 345.0,450.2 C337.5,449.8 328.3,449.5 320.0,449.0 C311.7,448.5 302.5,448.0 295.0,447.3 C287.5,446.6 280.5,445.8 275.0,445.0 C269.5,444.2 266.2,443.5 262.0,442.5 C257.8,441.5 253.0,440.2 250.0,439.0 C247.0,437.8 243.2,435.6 244.0,435.2 Z" fill="#4264B3"/><path d="M221.0,452.8 C220.6,451.3 221.5,448.1 222.5,446.0 C223.5,443.9 225.1,441.6 227.0,440.0 C228.9,438.4 231.2,437.0 234.0,436.2 C236.8,435.4 240.5,435.2 244.0,435.2 C247.5,435.2 251.8,435.8 255.0,436.3 C258.2,436.8 261.8,436.7 263.0,438.0 C264.2,439.3 263.3,442.2 262.0,444.0 C260.7,445.8 257.8,447.7 255.0,449.0 C252.2,450.3 248.7,451.2 245.0,452.0 C241.3,452.8 236.3,453.5 233.0,454.0 C229.7,454.5 227.0,455.2 225.0,455.0 C223.0,454.8 221.4,454.3 221.0,452.8 Z" fill="#4869B9"/><path d="M254,451.5 L269,450.8 L271.5,459.5 L266,463.8 L256,463.5 Z" fill="#7391D0" opacity="0.8"/><path d="M224,456.5 C232,459.5 242,461.5 252,462.5" fill="none" stroke="#86A2DC" stroke-width="1.1" opacity="0.9"/><path d="M221.5,449 C221,452 221.5,454.5 224,456.5" fill="none" stroke="#2F4C9E" stroke-width="1.2"/><path d="M244,462.5 C255,465 270,466.5 284,464 C281,467.5 276,469.5 270,470 C260,469.5 250,466.5 244,462.5 Z" fill="#86A3DC" opacity="0.9"/><circle cx="239.4" cy="446.2" r="3.6" fill="#2C469D"/><path d="M221.2,451.5 C222,455 224.5,457 228,457.8" fill="none" stroke="#2F4C9E" stroke-width="1.3"/>
<path d="M534.1,254.2 C534.9,254.1 535.8,254.5 536.4,255.1 C537.0,255.7 537.7,255.2 537.9,257.7 C538.1,260.2 537.6,265.7 537.7,270.2 C537.7,274.8 538.0,279.9 538.1,284.8 C538.3,289.8 538.6,295.5 538.5,300.0 C538.5,304.5 537.8,308.4 537.7,312.0 C537.7,315.6 538.4,317.9 538.4,321.8 C538.4,325.6 537.6,330.9 537.7,335.3 C537.8,339.7 538.8,343.8 538.8,348.2 C538.9,352.6 538.0,357.4 537.9,361.7 C537.9,366.0 538.7,370.9 538.5,374.1 C538.2,377.2 537.4,378.7 536.4,380.7 C535.3,382.7 533.2,384.5 532.3,386.0 C531.3,387.5 531.9,389.1 530.7,389.8 C529.4,390.4 526.0,390.4 524.6,389.8 C523.3,389.2 523.3,387.6 522.4,386.2 C521.6,384.8 520.1,383.7 519.5,381.3 C518.8,378.9 518.6,375.3 518.5,371.7 C518.3,368.1 518.9,363.8 518.7,359.8 C518.6,355.8 517.9,351.9 517.8,348.0 C517.8,344.0 518.5,339.9 518.4,335.9 C518.3,331.9 517.6,326.8 517.2,323.9 C516.8,321.0 516.5,320.2 515.9,318.6 C515.3,316.9 514.4,314.9 513.6,313.8 C512.8,312.7 511.5,312.9 511.1,311.8 C510.7,310.7 510.8,308.4 511.2,307.3 C511.7,306.3 513.0,305.3 514.1,305.3 C515.2,305.3 516.7,307.4 517.8,307.3 C518.8,307.3 520.0,305.7 520.6,305.0 C521.1,304.4 521.1,303.9 521.0,303.5 C521.0,303.1 520.0,303.1 520.2,302.8 C520.4,302.4 522.0,301.6 522.2,301.2 C522.5,300.8 522.2,300.8 521.9,300.4 C521.6,300.1 520.3,299.8 520.5,299.3 C520.7,298.8 522.8,298.1 523.1,297.7 C523.4,297.2 522.6,297.1 522.3,296.7 C522.1,296.3 521.6,295.6 521.8,295.2 C522.1,294.7 523.8,294.4 524.1,294.0 C524.3,293.6 523.7,293.1 523.4,292.8 C523.2,292.5 522.4,292.5 522.6,292.2 C522.9,291.9 524.6,291.6 524.8,291.0 C525.0,290.5 524.2,289.5 523.9,289.0 C523.7,288.5 523.0,288.3 523.2,288.0 C523.5,287.6 525.1,287.5 525.4,287.0 C525.6,286.6 525.2,285.8 524.9,285.5 C524.6,285.1 523.4,285.2 523.6,285.0 C523.8,284.7 525.8,284.3 526.2,283.8 C526.6,283.3 526.2,282.5 525.9,282.0 C525.7,281.6 524.5,281.5 524.7,281.1 C524.9,280.8 527.0,280.4 527.2,280.0 C527.5,279.5 526.7,279.0 526.5,278.6 C526.2,278.2 525.6,277.9 525.8,277.5 C526.1,277.1 527.7,276.9 527.9,276.5 C528.1,276.0 527.2,275.2 527.0,274.8 C526.8,274.3 526.4,274.3 526.7,273.9 C526.9,273.5 528.5,272.8 528.8,272.4 C529.0,271.9 528.3,271.7 528.0,271.4 C527.6,271.0 526.5,270.8 526.8,270.4 C527.1,270.0 529.3,269.2 529.6,268.8 C530.0,268.3 529.2,268.0 528.9,267.7 C528.6,267.3 527.8,266.9 528.0,266.6 C528.3,266.3 530.2,266.1 530.5,265.7 C530.7,265.2 529.5,264.2 529.3,263.8 C529.0,263.4 528.5,263.7 528.8,263.4 C529.1,263.1 530.5,263.1 530.9,261.9 C531.4,260.6 531.0,257.1 531.6,255.9 C532.1,254.6 533.3,254.4 534.1,254.2 Z" fill="#D3A8A8" stroke="#A27174" stroke-width="1.2" stroke-dasharray="2 0.8"/><path d="M529.8,264.3 Q531.9,263.9 534.0,264.0" fill="none" stroke="#F5EDED" stroke-width="1.3"/><path d="M529.8,264.3 Q531.9,263.9 534.0,264.0" fill="none" stroke="#B98789" stroke-width="0.4" transform="translate(0,1.1)"/><path d="M529.0,267.9 Q531.5,267.5 534.0,268.1" fill="none" stroke="#F5EDED" stroke-width="1.3"/><path d="M529.0,267.9 Q531.5,267.5 534.0,268.1" fill="none" stroke="#B98789" stroke-width="0.4" transform="translate(0,1.1)"/><path d="M528.1,271.5 Q531.1,270.9 534.0,271.3" fill="none" stroke="#F5EDED" stroke-width="1.3"/><path d="M528.1,271.5 Q531.1,270.9 534.0,271.3" fill="none" stroke="#B98789" stroke-width="0.4" transform="translate(0,1.1)"/><path d="M527.3,275.1 Q530.7,275.9 534.0,274.3" fill="none" stroke="#F5EDED" stroke-width="1.3"/><path d="M527.3,275.1 Q530.7,275.9 534.0,274.3" fill="none" stroke="#B98789" stroke-width="0.4" transform="translate(0,1.1)"/><path d="M526.5,278.7 Q530.2,278.9 534.0,279.1" fill="none" stroke="#F5EDED" stroke-width="1.3"/><path d="M526.5,278.7 Q530.2,278.9 534.0,279.1" fill="none" stroke="#B98789" stroke-width="0.4" transform="translate(0,1.1)"/><path d="M525.6,282.3 Q529.8,281.7 534.0,281.9" fill="none" stroke="#F5EDED" stroke-width="1.3"/><path d="M525.6,282.3 Q529.8,281.7 534.0,281.9" fill="none" stroke="#B98789" stroke-width="0.4" transform="translate(0,1.1)"/><path d="M524.8,285.9 Q529.4,286.8 534.0,285.5" fill="none" stroke="#F5EDED" stroke-width="1.3"/><path d="M524.8,285.9 Q529.4,286.8 534.0,285.5" fill="none" stroke="#B98789" stroke-width="0.4" transform="translate(0,1.1)"/><path d="M524.0,289.5 Q529.0,288.6 534.0,289.4" fill="none" stroke="#F5EDED" stroke-width="1.3"/><path d="M524.0,289.5 Q529.0,288.6 534.0,289.4" fill="none" stroke="#B98789" stroke-width="0.4" transform="translate(0,1.1)"/><path d="M523.2,293.1 Q528.6,293.7 534.0,292.5" fill="none" stroke="#F5EDED" stroke-width="1.3"/><path d="M523.2,293.1 Q528.6,293.7 534.0,292.5" fill="none" stroke="#B98789" stroke-width="0.4" transform="translate(0,1.1)"/><path d="M522.3,296.7 Q528.2,296.2 534.0,296.4" fill="none" stroke="#F5EDED" stroke-width="1.3"/><path d="M522.3,296.7 Q528.2,296.2 534.0,296.4" fill="none" stroke="#B98789" stroke-width="0.4" transform="translate(0,1.1)"/><path d="M521.5,300.3 Q527.8,301.3 534.0,300.2" fill="none" stroke="#F5EDED" stroke-width="1.3"/><path d="M521.5,300.3 Q527.8,301.3 534.0,300.2" fill="none" stroke="#B98789" stroke-width="0.4" transform="translate(0,1.1)"/><path d="M515,316 Q520,317 524.5,320 Q529,323.5 531.5,329.5 Q528,327 524,326.2 Q519.5,323.5 515,316 Z" fill="#FFFFFF" stroke="#B07F82" stroke-width="0.6"/><ellipse cx="541.3" cy="363" rx="1.9" ry="3.2" fill="#D3A8A8" stroke="#A27174" stroke-width="0.9" stroke-dasharray="1.5 0.6"/><path d="M538.9,400.4 C538.8,401.9 538.0,404.1 537.5,405.6 C536.9,407.0 536.8,408.3 535.7,409.2 C534.7,410.2 532.7,410.9 531.4,411.4 C530.0,412.0 528.8,412.3 527.5,412.4 C526.2,412.6 525.0,412.9 523.7,412.3 C522.3,411.7 520.3,410.1 519.3,409.0 C518.4,407.9 518.1,407.0 517.7,405.6 C517.3,404.2 517.0,402.2 516.9,400.6 C516.7,399.0 516.4,397.4 516.9,396.0 C517.4,394.5 519.0,393.1 520.1,392.0 C521.1,391.0 521.9,390.2 523.1,389.6 C524.3,389.1 525.9,388.7 527.4,388.7 C528.9,388.6 531.0,388.6 532.2,389.3 C533.4,390.0 533.7,391.6 534.7,392.8 C535.7,394.1 537.4,395.5 538.1,396.8 C538.8,398.1 539.0,398.9 538.9,400.4 Z" fill="#D3A8A8" stroke="#A27174" stroke-width="1.2" stroke-dasharray="2 0.8"/><path d="M521.5,398 C523,395 527.5,395.5 529.5,397.5 C533,396.5 534.5,401 532.5,404.5 C531,408.5 526.5,409.5 523.5,407.5 C520.5,405.5 520,401 521.5,398 Z" fill="#BE8486"/><ellipse cx="518.5" cy="419.5" rx="2.3" ry="3" fill="#D3A8A8" stroke="#A27174" stroke-width="0.9" stroke-dasharray="1.5 0.6"/><path d="M524.3,412.3 C525.0,410.1 528.4,409.7 529.1,411.8 C529.7,414.0 528.1,420.8 528.1,425.2 C528.2,429.6 529.3,433.6 529.3,438.0 C529.3,442.5 528.9,449.6 528.1,451.9 C527.3,454.2 525.0,454.1 524.6,451.7 C524.3,449.4 525.8,442.4 525.9,437.9 C525.9,433.4 525.0,429.0 524.7,424.7 C524.4,420.5 523.5,414.4 524.3,412.3 Z" fill="#D3A8A8" stroke="#A27174" stroke-width="1" stroke-dasharray="1.8 0.7"/><path d="M526.5,450 L518,456 L512.5,455.5 M518,456 L516,462 M526.5,450 L525,459 L521.5,465 M525,459 L528.5,464.5 M526.5,450 L534.5,455.5 L541,454 M534.5,455.5 L536.5,461" fill="none" stroke="#A27174" stroke-width="4" stroke-linecap="round" stroke-linejoin="round"/><path d="M526.5,450 L518,456 L512.5,455.5 M518,456 L516,462 M526.5,450 L525,459 L521.5,465 M525,459 L528.5,464.5 M526.5,450 L534.5,455.5 L541,454 M534.5,455.5 L536.5,461" fill="none" stroke="#D3A8A8" stroke-width="2.6" stroke-linecap="round" stroke-linejoin="round"/>
<path d="M583.1,338.2 C584.2,336.9 587.9,340.1 590.2,340.3 C592.6,340.5 595.8,337.7 597.2,339.3 C598.5,340.9 598.4,346.2 598.5,350.0 C598.6,353.8 597.7,358.1 597.8,362.1 C597.9,366.1 599.3,369.8 599.3,373.7 C599.3,377.7 598.4,382.7 597.8,385.8 C597.2,389.0 596.4,390.8 595.5,392.6 C594.7,394.3 593.9,395.6 592.7,396.3 C591.4,397.0 589.0,397.5 587.8,396.8 C586.7,396.0 586.4,393.8 585.7,391.8 C584.9,389.8 583.7,388.1 583.4,384.7 C583.1,381.4 584.3,375.8 584.1,371.7 C583.9,367.7 582.2,364.2 582.2,360.3 C582.1,356.3 583.4,351.5 583.6,347.8 C583.8,344.1 582.0,339.4 583.1,338.2 Z" fill="#A6575B" stroke="#7E3A3E" stroke-width="1.2" stroke-dasharray="2 0.8"/><path d="M584,340 Q578,339 576.5,336.5 Q578,344 583,346" fill="#A6575B" stroke="#7E3A3E" stroke-width="1"/><rect x="582.3" y="260.6" width="16.3" height="78" rx="2" fill="#83282E" stroke="#6A1F24" stroke-width="1.2" stroke-dasharray="2 0.8"/><rect x="583.3" y="262.30" width="14.4" height="1.25" fill="#A8474D"/><rect x="583.3" y="264.85" width="14.4" height="1.25" fill="#A8474D"/><rect x="583.3" y="267.40" width="14.4" height="1.25" fill="#A8474D"/><rect x="583.3" y="269.95" width="14.4" height="1.25" fill="#A8474D"/><rect x="583.3" y="272.50" width="14.4" height="1.25" fill="#A8474D"/><rect x="583.3" y="275.05" width="14.4" height="1.25" fill="#A8474D"/><rect x="583.3" y="277.60" width="14.4" height="1.25" fill="#A8474D"/><rect x="583.3" y="280.15" width="14.4" height="1.25" fill="#A8474D"/><rect x="583.3" y="282.70" width="14.4" height="1.25" fill="#A8474D"/><rect x="583.3" y="285.25" width="14.4" height="1.25" fill="#A8474D"/><rect x="583.3" y="287.80" width="14.4" height="1.25" fill="#A8474D"/><rect x="583.3" y="290.35" width="14.4" height="1.25" fill="#A8474D"/><rect x="583.3" y="292.90" width="14.4" height="1.25" fill="#A8474D"/><rect x="583.3" y="295.45" width="14.4" height="1.25" fill="#A8474D"/><rect x="583.3" y="298.00" width="14.4" height="1.25" fill="#A8474D"/><rect x="583.3" y="300.55" width="14.4" height="1.25" fill="#A8474D"/><rect x="583.3" y="303.10" width="14.4" height="1.25" fill="#A8474D"/><rect x="583.3" y="305.65" width="14.4" height="1.25" fill="#A8474D"/><rect x="583.3" y="308.20" width="14.4" height="1.25" fill="#A8474D"/><rect x="583.3" y="310.75" width="14.4" height="1.25" fill="#A8474D"/><rect x="583.3" y="313.30" width="14.4" height="1.25" fill="#A8474D"/><rect x="583.3" y="315.85" width="14.4" height="1.25" fill="#A8474D"/><rect x="583.3" y="318.40" width="14.4" height="1.25" fill="#A8474D"/><rect x="583.3" y="320.95" width="14.4" height="1.25" fill="#A8474D"/><rect x="583.3" y="323.50" width="14.4" height="1.25" fill="#A8474D"/><rect x="583.3" y="326.05" width="14.4" height="1.25" fill="#A8474D"/><rect x="583.3" y="328.60" width="14.4" height="1.25" fill="#A8474D"/><rect x="583.3" y="331.15" width="14.4" height="1.25" fill="#A8474D"/><rect x="583.3" y="333.70" width="14.4" height="1.25" fill="#A8474D"/><rect x="583.3" y="336.25" width="14.4" height="1.25" fill="#A8474D"/><path d="M586.5,258.5 Q590,255.5 593.5,257.5" fill="none" stroke="#83282E" stroke-width="2.4" stroke-linecap="round"/><path d="M577.5,337.5 Q582,342 586,342.5 Q590,343.5 591,348.5 Q593.5,345 592.5,340.5 Q588,341 585.5,339.5 Q581,338.5 577.5,337.5 Z" fill="#FFFFFF" stroke="#8E4448" stroke-width="0.6"/><ellipse cx="582" cy="364" rx="1.6" ry="3" fill="#A6575B" stroke="#7E3A3E" stroke-width="0.8"/><ellipse cx="597.5" cy="401.5" rx="1.5" ry="2.8" fill="#A6575B" stroke="#7E3A3E" stroke-width="0.8" transform="rotate(-30 597.5 401.5)"/><path d="M600.1,411.4 C600.0,412.9 599.2,414.7 598.7,416.1 C598.2,417.4 597.8,418.6 597.0,419.7 C596.2,420.7 594.8,421.9 593.7,422.5 C592.7,423.2 591.8,423.6 590.8,423.5 C589.8,423.4 588.7,422.6 587.5,421.9 C586.4,421.2 585.0,420.3 584.1,419.2 C583.2,418.0 582.4,416.5 581.9,415.2 C581.5,413.8 581.4,412.5 581.4,411.1 C581.4,409.7 581.3,408.0 581.8,406.6 C582.2,405.1 583.1,403.4 584.1,402.3 C585.0,401.2 586.4,400.5 587.5,399.9 C588.5,399.3 589.3,399.1 590.4,399.0 C591.5,398.9 593.1,399.0 594.2,399.5 C595.4,400.0 596.6,400.8 597.4,402.0 C598.3,403.3 598.7,405.2 599.2,406.8 C599.6,408.3 600.2,409.8 600.1,411.4 Z" fill="#A6575B" stroke="#7E3A3E" stroke-width="1.2" stroke-dasharray="2 0.8"/><path d="M585,409 C586,405 591,404 593.5,407 C596,410 595,415 592,416.5 C589,418 585.5,416 585,413 Z" fill="#8F3B41"/><path d="M588.2,422.2 C588.9,420.3 591.9,420.3 592.4,422.0 C592.9,423.8 591.2,428.9 591.2,432.7 C591.2,436.6 592.5,441.0 592.6,445.3 C592.7,449.5 592.3,456.0 591.6,458.2 C590.9,460.3 589.0,460.5 588.6,458.3 C588.2,456.1 589.3,449.1 589.2,444.9 C589.1,440.7 588.2,437.0 588.0,433.2 C587.8,429.4 587.5,424.0 588.2,422.2 Z" fill="#A6575B" stroke="#7E3A3E" stroke-width="1" stroke-dasharray="1.8 0.7"/><path d="M590,456 L584,461 L583,464.5 M590,456 L590,465 M590,456 L596,461 L597.5,464.5" fill="none" stroke="#7E3A3E" stroke-width="4.2" stroke-linecap="round" stroke-linejoin="round"/><path d="M590,456 L584,461 L583,464.5 M590,456 L590,465 M590,456 L596,461 L597.5,464.5" fill="none" stroke="#A6575B" stroke-width="2.8" stroke-linecap="round" stroke-linejoin="round"/>
<rect x="81.9" y="240.4" width="6.4" height="56" rx="3.2" fill="#7E3C40" stroke="#7E3C40" stroke-width="1.3" stroke-linejoin="round"/><path d="M71.2,292.2 L88.3,292.2 L88.3,298 Q87.3,302 88.3,306 L88.3,366 Q88.3,369 84,371.5 L82,373.6 L74,373.6 L72,371.5 Q68.5,369 68.5,366 L68.5,309 Q68.5,306.3 71.5,306.3 Q75.5,306.6 77.2,303.6 Q76,300.5 72.5,299.5 Q70,298.8 70,296 Z" fill="#7E3C40" stroke="#7E3C40" stroke-width="1.3" stroke-linejoin="round"/><ellipse cx="78" cy="388.4" rx="10.2" ry="13.6" fill="#7E3C40" stroke="#7E3C40" stroke-width="1.3" stroke-linejoin="round"/><rect x="76.6" y="398" width="3" height="46" fill="#7E3C40" stroke="#7E3C40" stroke-width="1.3" stroke-linejoin="round"/><path d="M78,440 L71,445.5 L64.5,445.2 M71,445.5 L69.5,452 M78,440 L77,450 L74,455 M77,450 L79.5,456 M78,440 L85,446.5 L91,445 M85,446.5 L87,452" fill="none" stroke-linecap="round" stroke="#7E3C40" stroke-width="3.9" stroke-linejoin="round"/><rect x="81.9" y="240.4" width="6.4" height="56" rx="3.2" fill="#A45F60"/><path d="M71.2,292.2 L88.3,292.2 L88.3,298 Q87.3,302 88.3,306 L88.3,366 Q88.3,369 84,371.5 L82,373.6 L74,373.6 L72,371.5 Q68.5,369 68.5,366 L68.5,309 Q68.5,306.3 71.5,306.3 Q75.5,306.6 77.2,303.6 Q76,300.5 72.5,299.5 Q70,298.8 70,296 Z" fill="#A45F60"/><ellipse cx="78" cy="388.4" rx="10.2" ry="13.6" fill="#A45F60"/><rect x="76.6" y="398" width="3" height="46" fill="#A45F60"/><path d="M78,440 L71,445.5 L64.5,445.2 M71,445.5 L69.5,452 M78,440 L77,450 L74,455 M77,450 L79.5,456 M78,440 L85,446.5 L91,445 M85,446.5 L87,452" fill="none" stroke-linecap="round" stroke="#A45F60" stroke-width="2.6" stroke-linejoin="round"/><rect x="80.20" y="247.30" width="2.80" height="1.75" fill="#9E585A"/><rect x="79.49" y="250.70" width="3.51" height="1.75" fill="#9E585A"/><rect x="78.78" y="254.10" width="4.22" height="1.75" fill="#9E585A"/><rect x="78.08" y="257.50" width="4.92" height="1.75" fill="#9E585A"/><rect x="77.37" y="260.90" width="5.63" height="1.75" fill="#9E585A"/><rect x="76.66" y="264.30" width="6.34" height="1.75" fill="#9E585A"/><rect x="75.95" y="267.70" width="7.05" height="1.75" fill="#9E585A"/><rect x="75.25" y="271.10" width="7.75" height="1.75" fill="#9E585A"/><rect x="74.54" y="274.50" width="8.46" height="1.75" fill="#9E585A"/><rect x="73.83" y="277.90" width="9.17" height="1.75" fill="#9E585A"/><rect x="73.12" y="281.30" width="9.88" height="1.75" fill="#9E585A"/><rect x="72.42" y="284.70" width="10.58" height="1.75" fill="#9E585A"/><rect x="71.71" y="288.10" width="11.29" height="1.75" fill="#9E585A"/><rect x="71.00" y="291.50" width="12.00" height="1.75" fill="#9E585A"/><rect x="82.2" y="246" width="5.8" height="47" fill="#A45F60"/><path d="M72.5,299.3 Q76.5,300 77.6,303.4 Q76.3,306.6 72,307.2" fill="none" stroke="#FFFFFF" stroke-width="1.1"/><ellipse cx="78" cy="389" rx="7" ry="9" fill="#8A3C42"/><ellipse cx="77.5" cy="388" rx="5" ry="6.5" fill="#7E3039" opacity="0.7"/>
<rect x="116.3" y="243.8" width="17.1" height="84" rx="5" fill="#A07276" stroke="#A07276" stroke-width="1.2" stroke-linejoin="round"/><rect x="113.4" y="318.5" width="3.2" height="11.5" rx="1.3" fill="#A07276" stroke="#A07276" stroke-width="1.2" stroke-linejoin="round"/><path d="M116.3,325 L133.4,325 L133.4,329 Q131.6,332 133.4,335.5 L133.4,381 Q133.4,385 129,388.5 L127.5,391 L121.5,391 L120,388.5 Q116.3,385 116.3,381 Z" fill="#A07276" stroke="#A07276" stroke-width="1.2" stroke-linejoin="round"/><ellipse cx="124.6" cy="404.3" rx="9" ry="12.8" fill="#A07276" stroke="#A07276" stroke-width="1.2" stroke-linejoin="round"/><rect x="123" y="413" width="3.4" height="36" fill="#A07276" stroke="#A07276" stroke-width="1.2" stroke-linejoin="round"/><path d="M124.7,446 C121,446 117,448.5 117.5,452.5 C118,456 121.5,455 124.7,453 C128,455 131.5,456 132,452.5 C132.5,448.5 128.5,446 124.7,446 Z" fill="#A07276" stroke="#A07276" stroke-width="1.2" stroke-linejoin="round"/><rect x="116.3" y="243.8" width="17.1" height="84" rx="5" fill="#D4AEAD"/><rect x="113.4" y="318.5" width="3.2" height="11.5" rx="1.3" fill="#D4AEAD"/><path d="M116.3,325 L133.4,325 L133.4,329 Q131.6,332 133.4,335.5 L133.4,381 Q133.4,385 129,388.5 L127.5,391 L121.5,391 L120,388.5 Q116.3,385 116.3,381 Z" fill="#D4AEAD"/><ellipse cx="124.6" cy="404.3" rx="9" ry="12.8" fill="#D4AEAD"/><rect x="123" y="413" width="3.4" height="36" fill="#D4AEAD"/><path d="M124.7,446 C121,446 117,448.5 117.5,452.5 C118,456 121.5,455 124.7,453 C128,455 131.5,456 132,452.5 C132.5,448.5 128.5,446 124.7,446 Z" fill="#D4AEAD"/><rect x="118.9" y="251.80" width="12.5" height="1.9" fill="#A9676A"/><rect x="118.9" y="255.23" width="12.5" height="1.9" fill="#A9676A"/><rect x="118.9" y="258.66" width="12.5" height="1.9" fill="#A9676A"/><rect x="118.9" y="262.09" width="12.5" height="1.9" fill="#A9676A"/><rect x="118.9" y="265.52" width="12.5" height="1.9" fill="#A9676A"/><rect x="118.9" y="268.95" width="12.5" height="1.9" fill="#A9676A"/><rect x="118.9" y="272.38" width="12.5" height="1.9" fill="#A9676A"/><rect x="118.9" y="275.81" width="12.5" height="1.9" fill="#A9676A"/><rect x="118.9" y="279.24" width="12.5" height="1.9" fill="#A9676A"/><rect x="118.9" y="282.67" width="12.5" height="1.9" fill="#A9676A"/><rect x="118.9" y="286.10" width="12.5" height="1.9" fill="#A9676A"/><rect x="118.9" y="289.53" width="12.5" height="1.9" fill="#A9676A"/><rect x="118.9" y="292.96" width="12.5" height="1.9" fill="#A9676A"/><rect x="118.9" y="296.39" width="12.5" height="1.9" fill="#A9676A"/><rect x="118.9" y="299.82" width="12.5" height="1.9" fill="#A9676A"/><rect x="118.9" y="303.25" width="12.5" height="1.9" fill="#A9676A"/><rect x="118.9" y="306.68" width="12.5" height="1.9" fill="#A9676A"/><rect x="118.9" y="310.11" width="12.5" height="1.9" fill="#A9676A"/><rect x="118.9" y="313.54" width="12.5" height="1.9" fill="#A9676A"/><rect x="118.9" y="316.97" width="12.5" height="1.9" fill="#A9676A"/><rect x="118.9" y="320.40" width="12.5" height="1.9" fill="#A9676A"/><path d="M113.6,328.5 Q117,333 120.5,334 Q123.5,335.5 123.8,339.5 Q127.2,337 126.6,333 Q124.5,333.6 122,331.5 Q118,328.5 113.6,328.5 Z" fill="#FFFFFF" stroke="#A07276" stroke-width="0.7"/><ellipse cx="124.3" cy="404.5" rx="6.4" ry="8" fill="#C3918F"/>
<circle cx="255.8" cy="69.8" r="10.2" fill="#2D4A9B"/><path d="M247,81 L264.5,81 Q268,81 270,84 L289.5,105 Q291,108 288,110 Q285.5,111.5 283.5,109 L267.8,92 L267.8,156 Q267.8,160.5 263,160.5 Q258.4,160.5 258.4,156 L258.4,121.5 L253,121.5 L253,156 Q253,160.5 248.3,160.5 Q243.6,160.5 243.6,156 L243.6,92 L228,109 Q226,111.5 223.5,110 Q220.5,108 222,105 L241.5,84 Q243.5,81 247,81 Z" fill="#2D4A9B"/>
</svg>
<!-- headings -->
<div class="h" style="left:76px;top:17.3px;color:#821C24;font-size:15.85px;-webkit-text-stroke:0.3px #821C24;">Control</div>
<div class="h" style="left:239.3px;top:17px;color:#55619F;-webkit-text-stroke:0.15px #55619F;">Variants in <i>TBC1D32</i></div>

<!-- texts -->
<div class="t" style="left:14px;width:173px;top:154px;">Retinal pigment<br>epithelium<br>(RPE)</div>
<div class="t" style="left:14.5px;width:173px;top:490.5px;">Photoreceptors</div>
<div class="t" style="left:260px;width:112.3px;top:57.5px;text-align:right;font-size:14.5px;line-height:15.4px;">Retinitis<br>pigmentosa</div>
<div class="t" style="left:201.8px;width:218px;top:371.4px;">Human iPSC-derived RPE and<br>retinal organoids</div>
<div class="t" style="left:201.6px;width:218px;top:492.5px;line-height:16.8px;">In vivo <i>tbc1d32</i> knockdown<br>in <i>Xenopus</i> embryos</div>
<div class="t" style="left:433px;width:254px;top:147px;">Elongated cilia, reduced<br>pigmentation, disrupted apical tight<br>junctions, loss of functionality,</div>
<div class="t" style="left:433px;width:254px;top:199.8px;">epithelial-mesenchymal transition-<br>like phenotype</div>
<div class="t" style="left:433px;width:254px;top:483px;">Differentiation defects, including<br>connecting cilium anomalies,<br>impaired trafficking to the outer</div>
<div class="t" style="left:433px;width:254px;top:535.2px;">segments</div>

</body></html>
